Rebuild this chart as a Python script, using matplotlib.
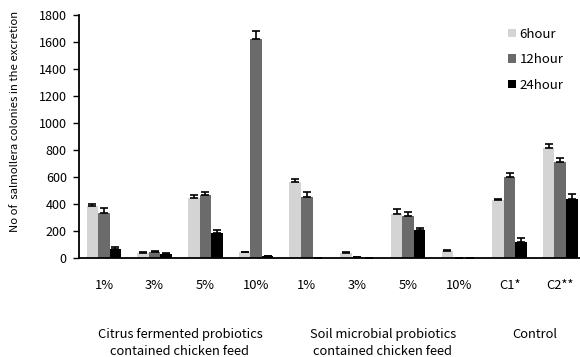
import matplotlib
matplotlib.use("Agg")
import matplotlib.pyplot as plt
import numpy as np

plt.rcParams['font.family'] = ['Noto Sans CJK KR', 'DejaVu Sans']

categories = ["1%", "3%", "5%", "10%", "1%", "3%", "5%", "10%", "C1*", "C2**"]
series_names = ["6hour", "12hour", "24hour"]
v6 = [385, 37, 447, 44, 563, 37, 329, 52, 427, 815]
e6 = [18, 4, 17, 3, 25, 7, 37, 7, 13, 32]
v12 = [333, 42, 464, 1625, 450, 5, 314, 3, 600, 711]
e12 = [40, 7, 25, 56, 37, 0, 27, 0, 30, 33]
v24 = [70, 33, 188, 15, 3, 0, 205, 0, 119, 440]
e24 = [11, 7, 22, 3, 0, 0, 15, 0, 27, 37]
group_labels = ["Citrus fermented probiotics\ncontained chicken feed",
                "Soil microbial probiotics\ncontained chicken feed",
                "Control"]
group_centers = [2.5, 6.5, 9.5]
ylabel = "No of  salmollera colonies in the excretion"

colors = ["#d4d4d4", "#6b6b6b", "#000000"]

fig = plt.figure(figsize=(5.8, 3.57), dpi=100)
ax = fig.add_axes([78.6 / 580, 1 - 258 / 357, 507 / 580, 243 / 357])

x = np.arange(1, len(categories) + 1)
w = 0.227
for j, (vals, errs) in enumerate([(v6, e6), (v12, e12), (v24, e24)]):
    xs = x + (j - 1) * w
    ax.bar(xs, vals, width=w, color=colors[j], label=series_names[j], zorder=2)
    ax.errorbar(xs, vals, yerr=[np.zeros(len(errs)), errs], fmt='none',
                ecolor='black', elinewidth=1.2, capsize=3, capthick=1.2, zorder=3)

ax.set_xlim(0.5, 10.5)
ax.set_ylim(0, 1800)
ax.set_yticks(np.arange(0, 1801, 200))
ax.tick_params(axis='y', labelsize=9, length=4.5, width=1, colors='black', pad=4)
ax.spines['top'].set_visible(False)
ax.spines['right'].set_visible(False)
ax.spines['left'].set_linewidth(1.3)
ax.spines['bottom'].set_linewidth(1.3)

ax.set_xticks(x)
ax.set_xticklabels(categories, fontsize=9.3)
ax.tick_params(axis='x', length=0, pad=15)

for gx, gl in zip(group_centers, group_labels):
    ax.text(gx, -0.29, gl, transform=ax.get_xaxis_transform(), ha='center',
            va='top', fontsize=9.3, linespacing=1.35)

ax.set_ylabel(ylabel, fontsize=8.2, labelpad=6)
ax.yaxis.set_label_coords(-0.115, 0.56)

leg = ax.legend(loc='upper left', bbox_to_anchor=(420 / 507, 0.986), frameon=False,
                fontsize=9.5, handlelength=0.6, handleheight=0.6, handletextpad=0.3,
                labelspacing=0.95, borderpad=0.2)

fig.savefig("out.png", dpi=100)
